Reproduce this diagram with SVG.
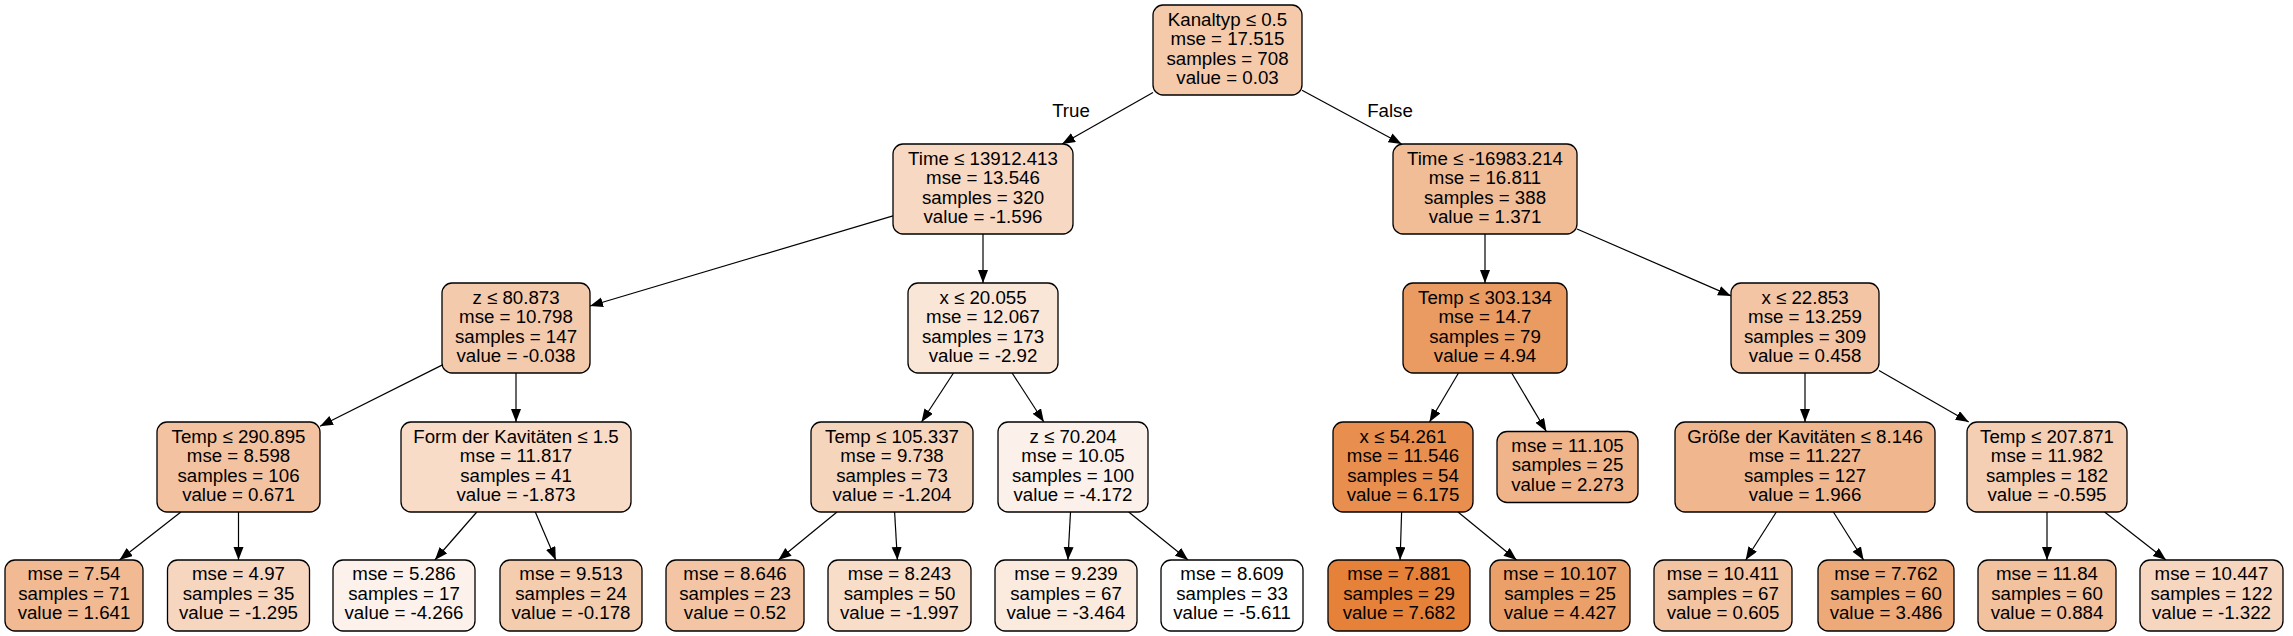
<svg xmlns="http://www.w3.org/2000/svg" width="2293" height="636" viewBox="0 0 2293 636">
<style>
.n rect{stroke:#000;stroke-width:1.3}
text{font-family:"Liberation Sans",Arial,sans-serif;font-size:18.7px;fill:#000;text-anchor:middle}
.e line{stroke:#000;stroke-width:1.2}
</style>
<defs>
<marker id="arr" markerUnits="userSpaceOnUse" markerWidth="14" markerHeight="11" refX="13" refY="5" orient="auto"><path d="M0,0 L13,5 L0,10 z" fill="#000"/></marker>
</defs>
<rect width="2293" height="636" fill="#fff"/>
<g class="e">
<line x1="1153" y1="92.4" x2="1062.1" y2="144" marker-end="url(#arr)"/>
<line x1="1302" y1="90.2" x2="1401.6" y2="144" marker-end="url(#arr)"/>
<line x1="893" y1="215.8" x2="590" y2="306" marker-end="url(#arr)"/>
<line x1="983" y1="234" x2="983" y2="283" marker-end="url(#arr)"/>
<line x1="1485" y1="234" x2="1485" y2="283" marker-end="url(#arr)"/>
<line x1="1577" y1="229" x2="1731" y2="295.9" marker-end="url(#arr)"/>
<line x1="442" y1="365.1" x2="320" y2="426.2" marker-end="url(#arr)"/>
<line x1="516" y1="373" x2="516" y2="422" marker-end="url(#arr)"/>
<line x1="953.5" y1="373" x2="921.5" y2="422" marker-end="url(#arr)"/>
<line x1="1012.1" y1="373" x2="1043.9" y2="422" marker-end="url(#arr)"/>
<line x1="1458.5" y1="373" x2="1429.5" y2="422" marker-end="url(#arr)"/>
<line x1="1511.7" y1="373" x2="1546.4" y2="431.5" marker-end="url(#arr)"/>
<line x1="1805" y1="373" x2="1805" y2="422" marker-end="url(#arr)"/>
<line x1="1879" y1="370.5" x2="1968.7" y2="422" marker-end="url(#arr)"/>
<line x1="180.9" y1="512" x2="119.5" y2="560" marker-end="url(#arr)"/>
<line x1="238.5" y1="512" x2="238.5" y2="560" marker-end="url(#arr)"/>
<line x1="476.8" y1="512" x2="434.9" y2="560" marker-end="url(#arr)"/>
<line x1="535.3" y1="512" x2="555.8" y2="560" marker-end="url(#arr)"/>
<line x1="837" y1="512" x2="778.4" y2="560" marker-end="url(#arr)"/>
<line x1="894.6" y1="512" x2="897.4" y2="560" marker-end="url(#arr)"/>
<line x1="1070.5" y1="512" x2="1067.9" y2="560" marker-end="url(#arr)"/>
<line x1="1128.7" y1="512" x2="1188.1" y2="560" marker-end="url(#arr)"/>
<line x1="1401.6" y1="512" x2="1400.1" y2="560" marker-end="url(#arr)"/>
<line x1="1458" y1="512" x2="1516.6" y2="560" marker-end="url(#arr)"/>
<line x1="1776.3" y1="512" x2="1745.7" y2="560" marker-end="url(#arr)"/>
<line x1="1833.4" y1="512" x2="1863.6" y2="560" marker-end="url(#arr)"/>
<line x1="2047" y1="512" x2="2047" y2="560" marker-end="url(#arr)"/>
<line x1="2104.6" y1="512" x2="2166" y2="560" marker-end="url(#arr)"/>
<text x="1071" y="117">True</text>
<text x="1390" y="117">False</text>
</g>
<g id="n0" class="n"><rect x="1153" y="5" width="149" height="90" rx="10" fill="#f4caab"/><text x="1227.5" y="25.5">Kanaltyp ≤ 0.5</text><text x="1227.5" y="45">mse = 17.515</text><text x="1227.5" y="64.5">samples = 708</text><text x="1227.5" y="84">value = 0.03</text></g>
<g id="n1" class="n"><rect x="893" y="144" width="180" height="90" rx="10" fill="#f7d9c3"/><text x="983" y="164.5">Time ≤ 13912.413</text><text x="983" y="184">mse = 13.546</text><text x="983" y="203.5">samples = 320</text><text x="983" y="223">value = -1.596</text></g>
<g id="n2" class="n"><rect x="1393" y="144" width="184" height="90" rx="10" fill="#f1bd97"/><text x="1485" y="164.5">Time ≤ -16983.214</text><text x="1485" y="184">mse = 16.811</text><text x="1485" y="203.5">samples = 388</text><text x="1485" y="223">value = 1.371</text></g>
<g id="n3" class="n"><rect x="442" y="283" width="148" height="90" rx="10" fill="#f4caac"/><text x="516" y="303.5">z ≤ 80.873</text><text x="516" y="323">mse = 10.798</text><text x="516" y="342.5">samples = 147</text><text x="516" y="362">value = -0.038</text></g>
<g id="n4" class="n"><rect x="908" y="283" width="150" height="90" rx="10" fill="#fae6d7"/><text x="983" y="303.5">x ≤ 20.055</text><text x="983" y="323">mse = 12.067</text><text x="983" y="342.5">samples = 173</text><text x="983" y="362">value = -2.92</text></g>
<g id="n5" class="n"><rect x="1403" y="283" width="164" height="90" rx="10" fill="#ea9b62"/><text x="1485" y="303.5">Temp ≤ 303.134</text><text x="1485" y="323">mse = 14.7</text><text x="1485" y="342.5">samples = 79</text><text x="1485" y="362">value = 4.94</text></g>
<g id="n6" class="n"><rect x="1731" y="283" width="148" height="90" rx="10" fill="#f3c5a5"/><text x="1805" y="303.5">x ≤ 22.853</text><text x="1805" y="323">mse = 13.259</text><text x="1805" y="342.5">samples = 309</text><text x="1805" y="362">value = 0.458</text></g>
<g id="n7" class="n"><rect x="157" y="422" width="163" height="90" rx="10" fill="#f3c3a1"/><text x="238.5" y="442.5">Temp ≤ 290.895</text><text x="238.5" y="462">mse = 8.598</text><text x="238.5" y="481.5">samples = 106</text><text x="238.5" y="501">value = 0.671</text></g>
<g id="n8" class="n"><rect x="401" y="422" width="230" height="90" rx="10" fill="#f8dcc7"/><text x="516" y="442.5">Form der Kavitäten ≤ 1.5</text><text x="516" y="462">mse = 11.817</text><text x="516" y="481.5">samples = 41</text><text x="516" y="501">value = -1.873</text></g>
<g id="n9" class="n"><rect x="811" y="422" width="162" height="90" rx="10" fill="#f6d5bd"/><text x="892" y="442.5">Temp ≤ 105.337</text><text x="892" y="462">mse = 9.738</text><text x="892" y="481.5">samples = 73</text><text x="892" y="501">value = -1.204</text></g>
<g id="n10" class="n"><rect x="998" y="422" width="150" height="90" rx="10" fill="#fcf1ea"/><text x="1073" y="442.5">z ≤ 70.204</text><text x="1073" y="462">mse = 10.05</text><text x="1073" y="481.5">samples = 100</text><text x="1073" y="501">value = -4.172</text></g>
<g id="n11" class="n"><rect x="1333" y="422" width="140" height="90" rx="10" fill="#e88f4f"/><text x="1403" y="442.5">x ≤ 54.261</text><text x="1403" y="462">mse = 11.546</text><text x="1403" y="481.5">samples = 54</text><text x="1403" y="501">value = 6.175</text></g>
<g id="n12" class="n"><rect x="1497" y="431.5" width="141" height="71" rx="10" fill="#f0b48a"/><text x="1567.5" y="451.5">mse = 11.105</text><text x="1567.5" y="471">samples = 25</text><text x="1567.5" y="490.5">value = 2.273</text></g>
<g id="n13" class="n"><rect x="1675" y="422" width="260" height="90" rx="10" fill="#f0b78e"/><text x="1805" y="442.5">Größe der Kavitäten ≤ 8.146</text><text x="1805" y="462">mse = 11.227</text><text x="1805" y="481.5">samples = 127</text><text x="1805" y="501">value = 1.966</text></g>
<g id="n14" class="n"><rect x="1967" y="422" width="160" height="90" rx="10" fill="#f5cfb4"/><text x="2047" y="442.5">Temp ≤ 207.871</text><text x="2047" y="462">mse = 11.982</text><text x="2047" y="481.5">samples = 182</text><text x="2047" y="501">value = -0.595</text></g>
<g id="n15" class="n"><rect x="5" y="560" width="138" height="71" rx="10" fill="#f1ba93"/><text x="74" y="580">mse = 7.54</text><text x="74" y="599.5">samples = 71</text><text x="74" y="619">value = 1.641</text></g>
<g id="n16" class="n"><rect x="167.5" y="560" width="142" height="71" rx="10" fill="#f7d6bf"/><text x="238.5" y="580">mse = 4.97</text><text x="238.5" y="599.5">samples = 35</text><text x="238.5" y="619">value = -1.295</text></g>
<g id="n17" class="n"><rect x="333" y="560" width="142" height="71" rx="10" fill="#fcf2eb"/><text x="404" y="580">mse = 5.286</text><text x="404" y="599.5">samples = 17</text><text x="404" y="619">value = -4.266</text></g>
<g id="n18" class="n"><rect x="500" y="560" width="142" height="71" rx="10" fill="#f4ccae"/><text x="571" y="580">mse = 9.513</text><text x="571" y="599.5">samples = 24</text><text x="571" y="619">value = -0.178</text></g>
<g id="n19" class="n"><rect x="666" y="560" width="138" height="71" rx="10" fill="#f3c5a4"/><text x="735" y="580">mse = 8.646</text><text x="735" y="599.5">samples = 23</text><text x="735" y="619">value = 0.52</text></g>
<g id="n20" class="n"><rect x="828" y="560" width="143" height="71" rx="10" fill="#f8ddc9"/><text x="899.5" y="580">mse = 8.243</text><text x="899.5" y="599.5">samples = 50</text><text x="899.5" y="619">value = -1.997</text></g>
<g id="n21" class="n"><rect x="995" y="560" width="142" height="71" rx="10" fill="#fbebdf"/><text x="1066" y="580">mse = 9.239</text><text x="1066" y="599.5">samples = 67</text><text x="1066" y="619">value = -3.464</text></g>
<g id="n22" class="n"><rect x="1161" y="560" width="142" height="71" rx="10" fill="#ffffff"/><text x="1232" y="580">mse = 8.609</text><text x="1232" y="599.5">samples = 33</text><text x="1232" y="619">value = -5.611</text></g>
<g id="n23" class="n"><rect x="1328" y="560" width="142" height="71" rx="10" fill="#e58139"/><text x="1399" y="580">mse = 7.881</text><text x="1399" y="599.5">samples = 29</text><text x="1399" y="619">value = 7.682</text></g>
<g id="n24" class="n"><rect x="1490" y="560" width="140" height="71" rx="10" fill="#eba069"/><text x="1560" y="580">mse = 10.107</text><text x="1560" y="599.5">samples = 25</text><text x="1560" y="619">value = 4.427</text></g>
<g id="n25" class="n"><rect x="1654" y="560" width="138" height="71" rx="10" fill="#f3c4a2"/><text x="1723" y="580">mse = 10.411</text><text x="1723" y="599.5">samples = 67</text><text x="1723" y="619">value = 0.605</text></g>
<g id="n26" class="n"><rect x="1818" y="560" width="136" height="71" rx="10" fill="#eda977"/><text x="1886" y="580">mse = 7.762</text><text x="1886" y="599.5">samples = 60</text><text x="1886" y="619">value = 3.486</text></g>
<g id="n27" class="n"><rect x="1978" y="560" width="138" height="71" rx="10" fill="#f2c19e"/><text x="2047" y="580">mse = 11.84</text><text x="2047" y="599.5">samples = 60</text><text x="2047" y="619">value = 0.884</text></g>
<g id="n28" class="n"><rect x="2140" y="560" width="143" height="71" rx="10" fill="#f7d6bf"/><text x="2211.5" y="580">mse = 10.447</text><text x="2211.5" y="599.5">samples = 122</text><text x="2211.5" y="619">value = -1.322</text></g>
</svg>
